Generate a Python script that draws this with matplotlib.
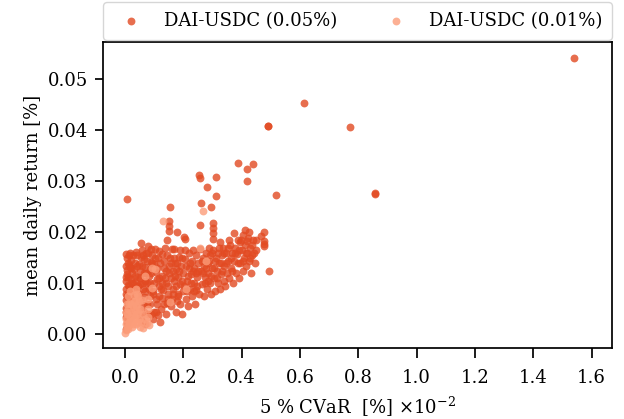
import matplotlib
matplotlib.use("Agg")
import matplotlib.pyplot as plt

# pool DAI-USDC 0.05% : (CVaR x1e-2, mean daily return)
cvar_005 = [
    0.004, 0.006, 0.003, 0.008, 0.005, 0.010, 0.004, 0.007, 0.012, 0.005, 0.009, 0.004, 0.011, 0.006, 0.008,
    0.004, 0.010, 0.006, 0.003, 0.015, 0.018, 0.020, 0.016, 0.022, 0.019, 0.024, 0.017, 0.021, 0.026, 0.028,
    0.030, 0.027, 0.032, 0.029, 0.033, 0.030, 0.034, 0.013, 0.037,
    0.045, 0.048, 0.043, 0.050, 0.046, 0.052, 0.049, 0.055, 0.058, 0.055, 0.062, 0.065, 0.060, 0.068, 0.064,
    0.070, 0.066, 0.072, 0.079, 0.078, 0.082, 0.085, 0.088, 0.092, 0.090, 0.086, 0.095, 0.098, 0.103, 0.100,
    0.105, 0.108, 0.112, 0.115, 0.118, 0.110, 0.113, 0.120,
    0.125, 0.128, 0.130, 0.126, 0.132, 0.135, 0.128, 0.138, 0.144, 0.140, 0.145, 0.148, 0.142, 0.150, 0.152,
    0.155, 0.151, 0.151, 0.151, 0.154, 0.160, 0.158, 0.162, 0.165, 0.168, 0.163, 0.170, 0.169, 0.175, 0.178,
    0.180, 0.182, 0.176, 0.178, 0.185, 0.188, 0.190, 0.192, 0.195, 0.198, 0.202, 0.205, 0.206,
    0.200, 0.205, 0.210, 0.212, 0.215, 0.218, 0.220, 0.222, 0.225, 0.228, 0.230, 0.233, 0.236, 0.238, 0.240,
    0.243, 0.245, 0.248, 0.250, 0.253, 0.257, 0.260, 0.257, 0.255, 0.258, 0.262, 0.265, 0.268, 0.270, 0.272,
    0.275, 0.278, 0.280, 0.281, 0.283, 0.285, 0.288, 0.290, 0.293, 0.295, 0.296, 0.298,
    0.301, 0.301, 0.301, 0.301, 0.303, 0.305, 0.308, 0.310, 0.312, 0.312, 0.314, 0.318, 0.320, 0.323, 0.325,
    0.327, 0.330, 0.333, 0.336, 0.338, 0.340, 0.343, 0.346, 0.350, 0.353, 0.356, 0.358, 0.360, 0.364, 0.367,
    0.370, 0.373, 0.375, 0.378, 0.380, 0.384, 0.387, 0.388, 0.390, 0.394, 0.396,
    0.400, 0.403, 0.405, 0.408, 0.411, 0.412, 0.415, 0.418, 0.418, 0.418, 0.420, 0.424, 0.426, 0.430, 0.432,
    0.435, 0.438, 0.440, 0.445, 0.450, 0.476, 0.466, 0.476, 0.476, 0.476, 0.490, 0.490, 0.493, 0.517, 0.613,
    0.771, 0.856, 0.857, 1.538, 0.007,
    0.002, 0.009, 0.013, 0.003, 0.014, 0.002, 0.012, 0.016, 0.023, 0.025, 0.020, 0.035, 0.038, 0.040, 0.042,
    0.044, 0.047, 0.053, 0.057, 0.060, 0.063, 0.067, 0.071, 0.074, 0.076, 0.080, 0.083, 0.087, 0.090, 0.094,
    0.097, 0.100, 0.104, 0.107, 0.110, 0.116, 0.119, 0.122, 0.127, 0.133, 0.136, 0.139, 0.143, 0.146, 0.149,
    0.156, 0.159, 0.164, 0.167, 0.172, 0.174, 0.179, 0.183, 0.186, 0.189, 0.194, 0.197, 0.203, 0.208, 0.213,
    0.217, 0.223, 0.227, 0.232, 0.235, 0.242, 0.247, 0.252, 0.263, 0.267, 0.273, 0.279, 0.284, 0.289, 0.294,
    0.299, 0.306, 0.311, 0.316, 0.321, 0.328, 0.334, 0.341, 0.347, 0.352, 0.362, 0.368, 0.376, 0.386, 0.392,
    0.398, 0.406, 0.414, 0.422, 0.428, 0.436, 0.442, 0.448,
    0.055, 0.065, 0.075, 0.085, 0.095, 0.105, 0.115, 0.060, 0.070, 0.090,
]
ret_005 = [
    0.0010, 0.0022, 0.0035, 0.0041, 0.0052, 0.0060, 0.0068, 0.0075, 0.0083, 0.0090, 0.0097, 0.0105, 0.0112, 0.0119, 0.0127,
    0.0134, 0.0141, 0.0150, 0.0158, 0.0030, 0.0048, 0.0063, 0.0079, 0.0092, 0.0108, 0.0120, 0.0133, 0.0146, 0.0155, 0.0038,
    0.0056, 0.0071, 0.0087, 0.0101, 0.0115, 0.0128, 0.0140, 0.0155, 0.0162,
    0.0046, 0.0065, 0.0082, 0.0098, 0.0112, 0.0125, 0.0139, 0.0151, 0.0165, 0.0180, 0.0057, 0.0074, 0.0090, 0.0105, 0.0120,
    0.0133, 0.0147, 0.0160, 0.0173, 0.0040, 0.0115, 0.0128, 0.0142, 0.0155, 0.0167, 0.0100, 0.0030, 0.0045, 0.0167, 0.0138,
    0.0122, 0.0108, 0.0150, 0.0163, 0.0095, 0.0060, 0.0038, 0.0025,
    0.0050, 0.0072, 0.0088, 0.0115, 0.0130, 0.0145, 0.0158, 0.0170, 0.0186, 0.0040, 0.0062, 0.0080, 0.0100, 0.0120, 0.0135,
    0.0150, 0.0202, 0.0212, 0.0222, 0.0249, 0.0168, 0.0055, 0.0070, 0.0090, 0.0105, 0.0125, 0.0140, 0.0168, 0.0045, 0.0065,
    0.0080, 0.0112, 0.0128, 0.0200, 0.0152, 0.0098, 0.0060, 0.0135, 0.0040, 0.0085, 0.0192, 0.0165, 0.0188,
    0.0120, 0.0148, 0.0070, 0.0105, 0.0055, 0.0130, 0.0160, 0.0090, 0.0118, 0.0075, 0.0145, 0.0165, 0.0100, 0.0130, 0.0060,
    0.0088, 0.0155, 0.0112, 0.0140, 0.0312, 0.0306, 0.0257, 0.0214, 0.0080, 0.0168, 0.0125, 0.0098, 0.0150, 0.0075, 0.0135,
    0.0112, 0.0160, 0.0090, 0.0290, 0.0140, 0.0120, 0.0170, 0.0100, 0.0155, 0.0249, 0.0080, 0.0130,
    0.0218, 0.0208, 0.0198, 0.0188, 0.0165, 0.0110, 0.0145, 0.0085, 0.0308, 0.0271, 0.0125, 0.0160, 0.0100, 0.0140, 0.0182,
    0.0090, 0.0118, 0.0155, 0.0170, 0.0105, 0.0135, 0.0095, 0.0160, 0.0120, 0.0145, 0.0186, 0.0110, 0.0175, 0.0130, 0.0160,
    0.0100, 0.0198, 0.0145, 0.0170, 0.0120, 0.0158, 0.0337, 0.0185, 0.0110, 0.0182, 0.0140,
    0.0165, 0.0125, 0.0195, 0.0150, 0.0204, 0.0175, 0.0135, 0.0324, 0.0300, 0.0184, 0.0160, 0.0145, 0.0200, 0.0170, 0.0120,
    0.0155, 0.0335, 0.0185, 0.0140, 0.0165, 0.0200, 0.0194, 0.0184, 0.0178, 0.0173, 0.0408, 0.0409, 0.0125, 0.0273, 0.0453,
    0.0406, 0.0276, 0.0278, 0.0543, 0.0265,
    0.0045, 0.0030, 0.0055, 0.0080, 0.0095, 0.0112, 0.0137, 0.0160, 0.0070, 0.0100, 0.0130, 0.0060, 0.0100, 0.0135, 0.0155,
    0.0095, 0.0075, 0.0110, 0.0135, 0.0155, 0.0100, 0.0085, 0.0120, 0.0145, 0.0100, 0.0160, 0.0090, 0.0060, 0.0120, 0.0140,
    0.0080, 0.0100, 0.0150, 0.0070, 0.0130, 0.0110, 0.0140, 0.0090, 0.0100, 0.0060, 0.0110, 0.0125, 0.0155, 0.0095, 0.0070,
    0.0110, 0.0140, 0.0080, 0.0150, 0.0115, 0.0095, 0.0140, 0.0075, 0.0125, 0.0165, 0.0105, 0.0150, 0.0095, 0.0135, 0.0085,
    0.0115, 0.0140, 0.0100, 0.0125, 0.0085, 0.0120, 0.0095, 0.0125, 0.0145, 0.0120, 0.0100, 0.0130, 0.0105, 0.0145, 0.0115,
    0.0160, 0.0130, 0.0150, 0.0110, 0.0170, 0.0140, 0.0125, 0.0160, 0.0140, 0.0170, 0.0150, 0.0125, 0.0160, 0.0140, 0.0165,
    0.0185, 0.0145, 0.0160, 0.0190, 0.0150, 0.0175, 0.0160, 0.0185,
    0.0035, 0.0045, 0.0060, 0.0075, 0.0085, 0.0045, 0.0075, 0.0025, 0.0020, 0.0040,
]

# pool DAI-USDC 0.01%
cvar_001 = [
    0.000, 0.003, 0.006, 0.002, 0.009, 0.012, 0.005, 0.015, 0.018, 0.008, 0.022, 0.020, 0.011, 0.025, 0.028,
    0.014, 0.030, 0.033, 0.035, 0.032, 0.038, 0.036, 0.040, 0.042, 0.045, 0.048, 0.050, 0.052, 0.055, 0.058,
    0.060, 0.062, 0.068, 0.070, 0.075, 0.079, 0.079, 0.079, 0.082, 0.092, 0.092,
    0.103, 0.130, 0.154, 0.209, 0.257, 0.267, 0.277,
    0.004, 0.007, 0.010, 0.016, 0.019, 0.024, 0.027, 0.031, 0.034, 0.037, 0.041, 0.043, 0.046, 0.049,
]
ret_001 = [
    0.0002, 0.0008, 0.0015, 0.0020, 0.0010, 0.0025, 0.0030, 0.0018, 0.0032, 0.0040, 0.0026, 0.0045, 0.0050, 0.0038, 0.0055,
    0.0062, 0.0030, 0.0048, 0.0065, 0.0078, 0.0090, 0.0020, 0.0040, 0.0058, 0.0075, 0.0030, 0.0015, 0.0050, 0.0025, 0.0068,
    0.0040, 0.0012, 0.0114, 0.0030, 0.0022, 0.0070, 0.0050, 0.0035, 0.0018, 0.0092, 0.0130,
    0.0129, 0.0222, 0.0063, 0.0090, 0.0170, 0.0243, 0.0145,
    0.0045, 0.0060, 0.0075, 0.0085, 0.0060, 0.0015, 0.0020, 0.0065, 0.0035, 0.0055, 0.0080, 0.0025, 0.0045, 0.0065,
]

plt.rcParams['font.family'] = 'DejaVu Serif'
plt.rcParams['mathtext.fontset'] = 'dejavuserif'
plt.rcParams['font.size'] = 13
plt.rcParams['axes.linewidth'] = 1.25

fig = plt.figure(figsize=(6.24, 4.19), dpi=100)
ax = fig.add_axes([0.1651, 0.1695, 0.8157, 0.7303])

ax.scatter(cvar_005, ret_005, s=32, c='#e24a22', alpha=0.8, linewidths=0, label='DAI-USDC (0.05%)')
ax.scatter(cvar_001, ret_001, s=32, c='#fc9d7a', alpha=0.8, linewidths=0, label='DAI-USDC (0.01%)')

ax.set_xlim(-0.0754, 1.670)
ax.set_ylim(-0.00265, 0.05735)
ax.set_xticks([0.0, 0.2, 0.4, 0.6, 0.8, 1.0, 1.2, 1.4, 1.6])
ax.set_yticks([0.0, 0.01, 0.02, 0.03, 0.04, 0.05])
ax.tick_params(width=1.25, length=6)
ax.tick_params(axis='y', pad=5)
ax.tick_params(axis='x', length=7, pad=8)

ax.set_xlabel(r'5 % CVaR  [%] $\times10^{-2}$', labelpad=6)
ax.set_ylabel('mean daily return [%]')

ax.legend(loc='lower left', bbox_to_anchor=(0, 1.0065, 1, 0.114), mode='expand',
          ncol=2, borderaxespad=0, fontsize=13, borderpad=0.55)

fig.savefig('out.png', dpi=100)
